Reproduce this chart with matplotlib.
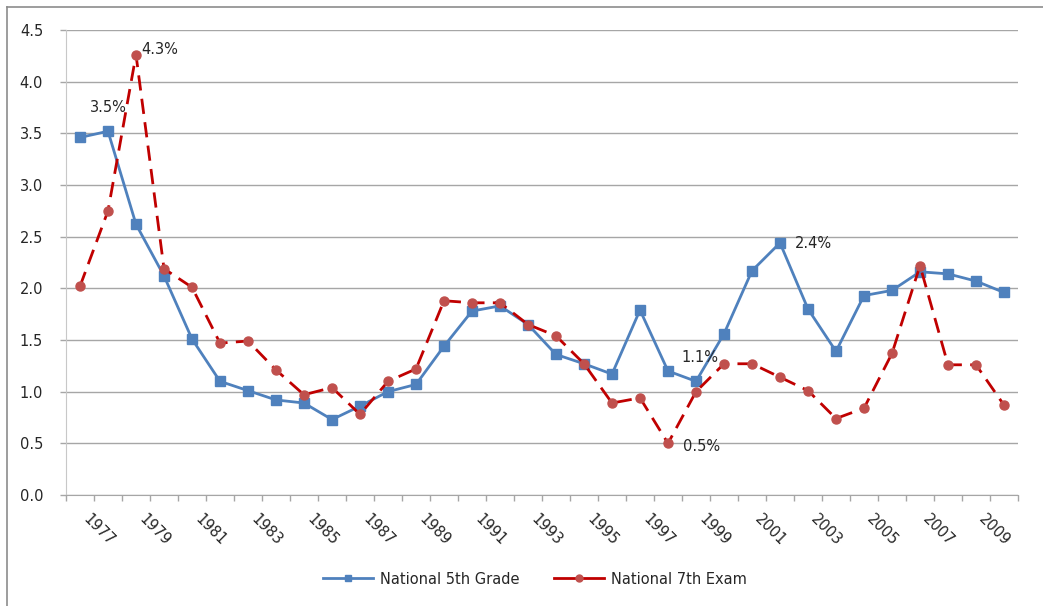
import matplotlib
matplotlib.use("Agg")
import matplotlib.pyplot as plt
import matplotlib.transforms as mtrans
from matplotlib.lines import Line2D
from matplotlib.ticker import MultipleLocator, FixedLocator

plt.rcParams['font.family'] = ['DejaVu Sans']

years = list(range(1977, 2011))
grade5 = [3.46, 3.52, 2.62, 2.12, 1.51, 1.10, 1.01, 0.92, 0.89, 0.73,
          0.86, 1.00, 1.07, 1.44, 1.78, 1.83, 1.65, 1.36, 1.27, 1.17,
          1.79, 1.20, 1.10, 1.56, 2.17, 2.44, 1.80, 1.39, 1.93, 1.98,
          2.16, 2.14, 2.07, 1.96]
exam7 = [2.02, 2.75, 4.26, 2.19, 2.01, 1.47, 1.49, 1.21, 0.97, 1.04,
         0.78, 1.10, 1.22, 1.88, 1.86, 1.86, 1.65, 1.54, 1.27, 0.89,
         0.94, 0.50, 1.00, 1.27, 1.27, 1.14, 1.01, 0.74, 0.84, 1.37,
         2.22, 1.26, 1.26, 0.87]
tick_years = years[::2]

# (series, year, label, offset in points, ha)
notes = [
    (exam7, 1979, "4.3%", (3.5, 3.5), 'left'),
    (grade5, 1978, "3.5%", (0, 17), 'center'),
    (grade5, 2002, "2.4%", (11, -0.5), 'left'),
    (grade5, 1999, "1.1%", (2.5, 17), 'center'),
    (exam7, 1998, "0.5%", (11, -2), 'left'),
]

BLUE = "#4F81BD"
RED_LINE = "#C00000"
RED_MRK = "#C0504D"
GRID = "#A6A6A6"
TXT = "#262626"

W, H = 1043, 606
fig = plt.figure(figsize=(W / 100, H / 100), dpi=100)
ax = fig.add_axes([66 / W, 1 - 495 / H, (1018 - 66) / W, (495 - 30) / H])

ax.plot(years, grade5, color=BLUE, lw=2.0, marker='s', ms=6.5,
        mfc=BLUE, mec=BLUE, zorder=3)
ax.plot(years, exam7, color=RED_LINE, lw=2.0, ls=(0, (5.5, 3)), marker='o', ms=6.5,
        mfc=RED_MRK, mec=RED_MRK, zorder=4)

for series, yr, txt, off, ha in notes:
    ax.annotate(txt, xy=(yr, series[years.index(yr)]), xytext=off,
                textcoords='offset points', ha=ha, va='center',
                fontsize=10.5, color=TXT, zorder=5)

ax.set_xlim(years[0] - 0.5, years[-1] + 0.5)
ax.set_ylim(0, 4.5)
ax.yaxis.set_major_locator(MultipleLocator(0.5))
ax.yaxis.set_major_formatter(matplotlib.ticker.FormatStrFormatter('%.1f'))
ax.grid(axis='y', color=GRID, lw=1.0)
ax.set_axisbelow(True)

# category ticks sit between years, labels every other year
ax.xaxis.set_major_locator(FixedLocator([y - 0.5 for y in years] + [years[-1] + 0.5]))
ax.set_xticklabels([])
ax.set_xticks(tick_years, minor=True)
ax.set_xticklabels([str(y) for y in tick_years], minor=True, rotation=-45,
                   ha='left', va='top', fontsize=10.5, color=TXT)
shift = mtrans.ScaledTranslation(-4 / 100, 0, fig.dpi_scale_trans)
for lbl in ax.get_xticklabels(minor=True):
    lbl.set_transform(lbl.get_transform() + shift)
ax.tick_params(axis='x', which='major', length=4, color=GRID, width=1)
ax.tick_params(axis='x', which='minor', length=0, pad=12)
ax.tick_params(axis='y', length=4.5, color=GRID, width=1, pad=12,
               labelsize=10.5, labelcolor=TXT)

for s in ['top', 'right']:
    ax.spines[s].set_visible(False)
ax.spines['left'].set_color('#C8C8C8')
ax.spines['bottom'].set_color(GRID)

handles = [
    Line2D([], [], color=BLUE, lw=2.0, marker='s', ms=5, mfc=BLUE, mec=BLUE),
    Line2D([], [], color=RED_LINE, lw=2.0, marker='o', ms=5, mfc=RED_MRK, mec=RED_MRK),
]
fig.legend(handles, ["National 5th Grade", "National 7th Exam"], loc='center',
           bbox_to_anchor=(0.513, 1 - 579 / H), ncol=2, frameon=False,
           fontsize=10.5, handlelength=3.4, handletextpad=0.5,
           columnspacing=2.4, labelcolor=TXT)

fig.add_artist(Line2D([7 / W, 1], [1 - 7 / H, 1 - 7 / H], color='#8C8C8C', lw=1.2))
fig.add_artist(Line2D([7 / W, 7 / W], [0, 1 - 7 / H], color='#8C8C8C', lw=1.2))

fig.savefig("out.png", dpi=100)
